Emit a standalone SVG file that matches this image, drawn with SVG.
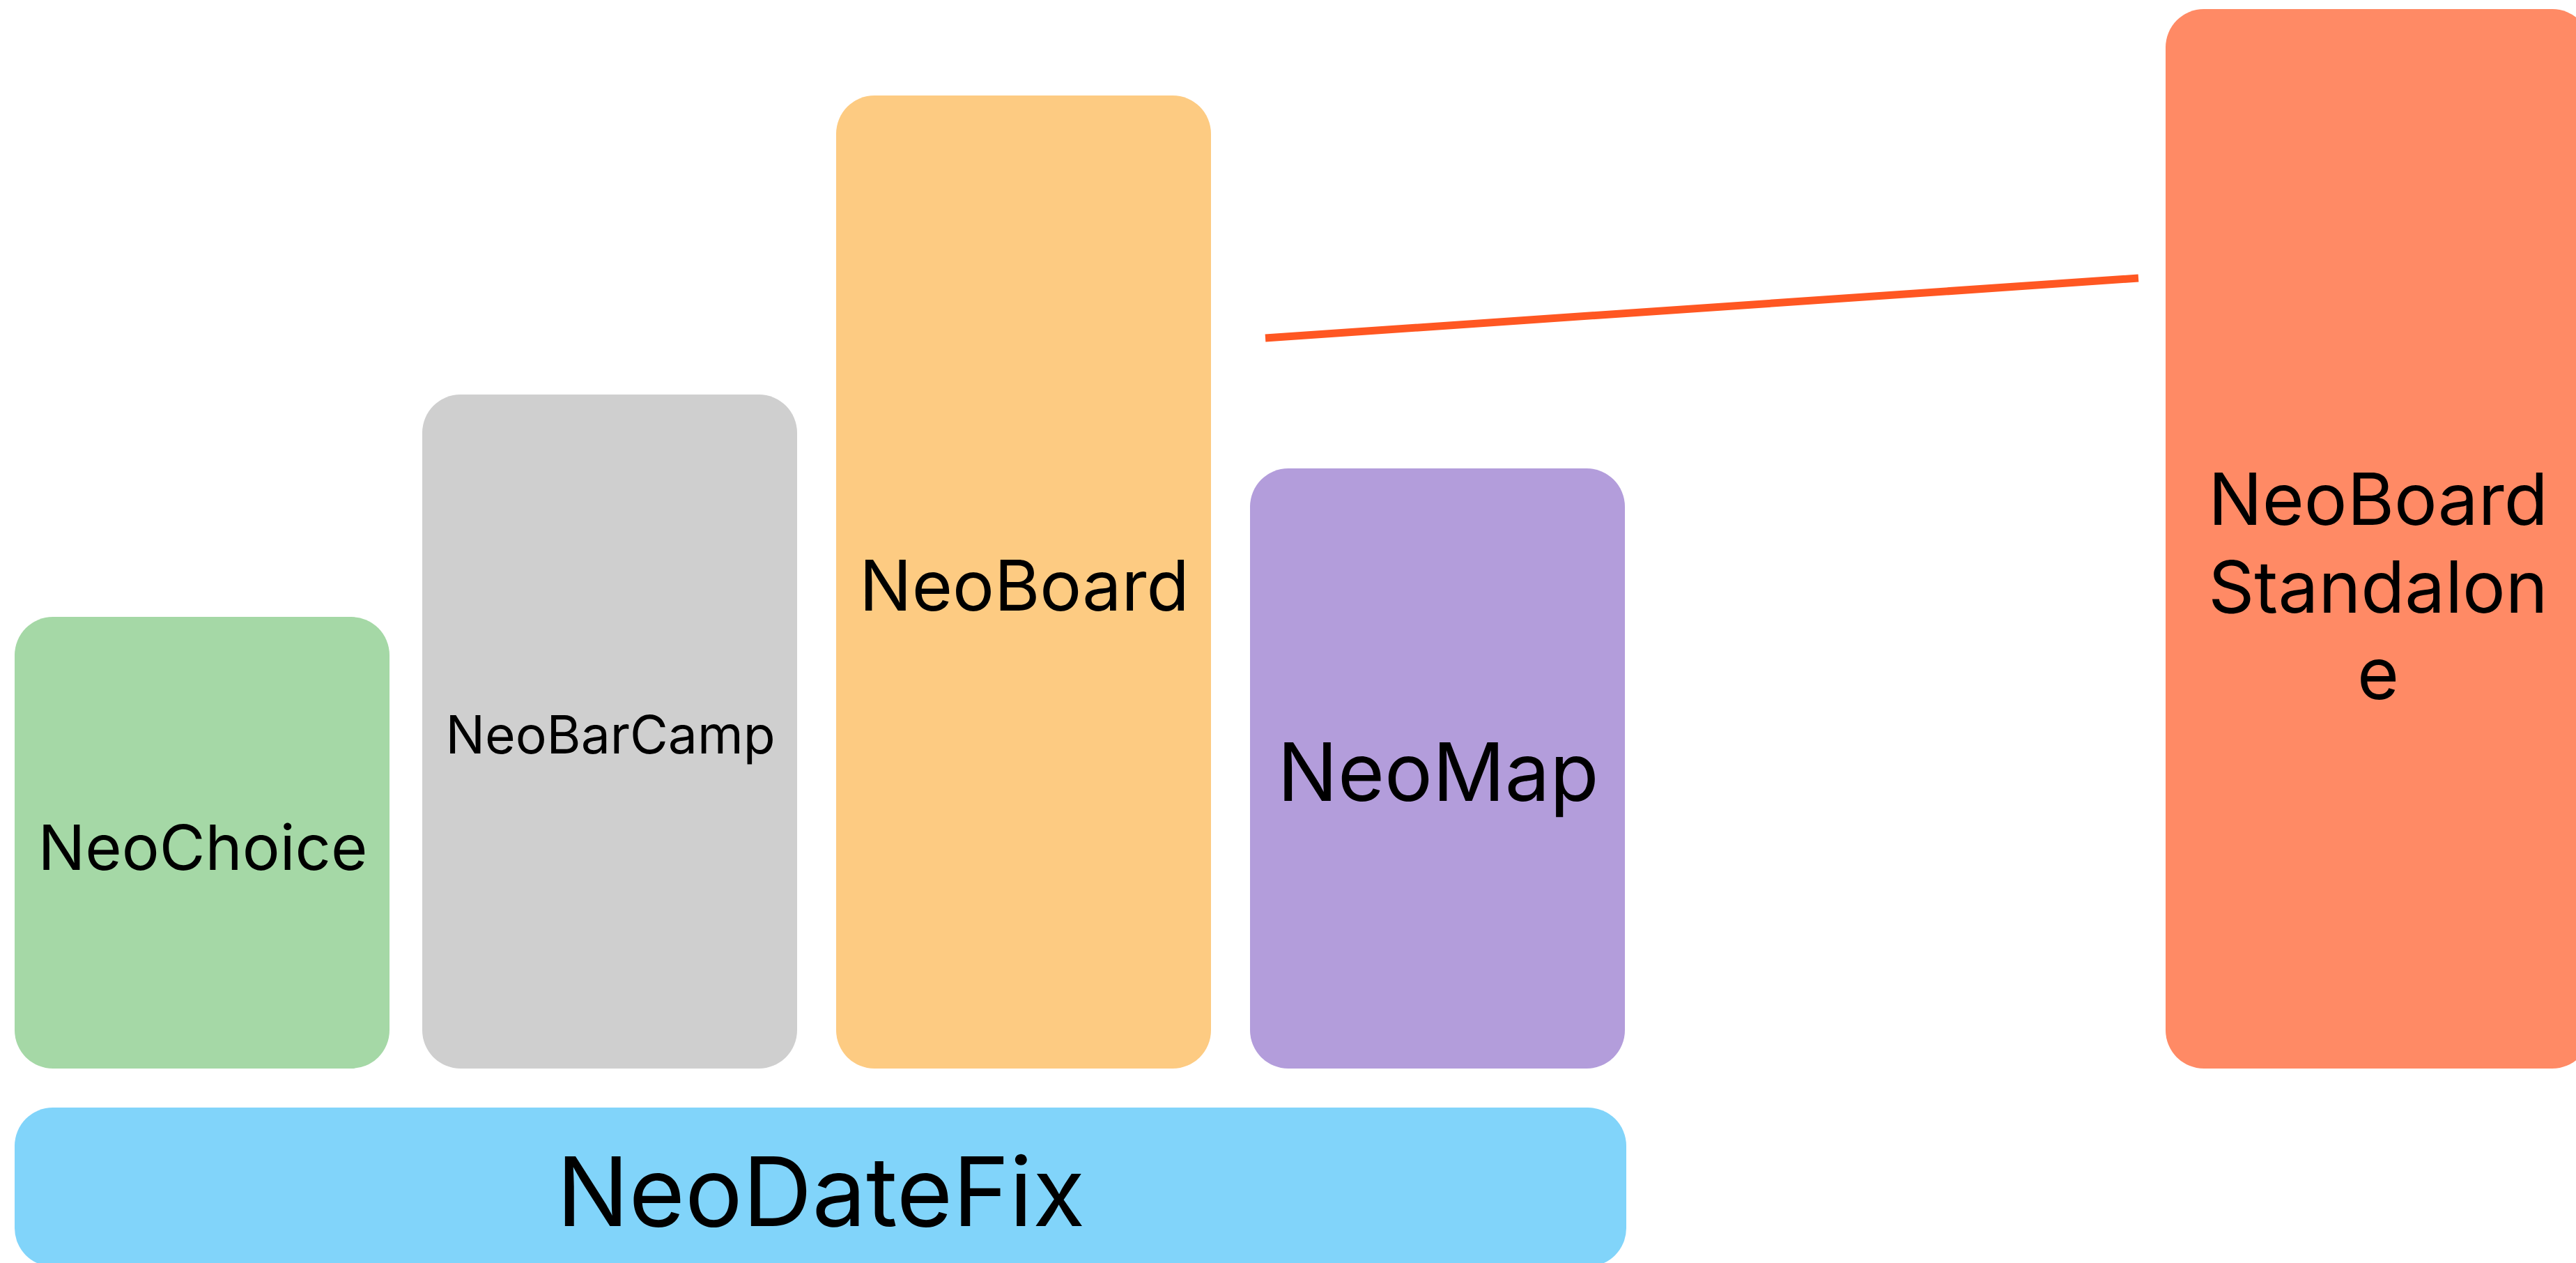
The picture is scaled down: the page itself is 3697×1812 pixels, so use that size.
<svg xmlns="http://www.w3.org/2000/svg" width="3697" height="1812" viewBox="0 0 3697 1812">
<style>
.box{rx:55px;ry:55px;}
text{font-family:Inter,"Noto Sans","Liberation Sans",sans-serif;fill:#000;text-anchor:middle;}
.conn{stroke:#FF5722;stroke-width:11;fill:none;}
</style>
<rect width="3697" height="1812" fill="#ffffff"/>
<g id="connectors">
<line class="conn" x1="1816" y1="485" x2="3069" y2="399"/>
</g>
<g id="NeoChoice">
<rect class="box" x="21" y="885" width="538" height="648" fill="#A5D8A6"/>
<text x="291" y="1248" font-size="90">NeoChoice</text>
</g>
<g id="NeoBarCamp">
<rect class="box" x="606" y="566" width="538" height="967" fill="#CFCFCF"/>
<text x="876" y="1081" font-size="75">NeoBarCamp</text>
</g>
<g id="NeoBoard">
<rect class="box" x="1200" y="137" width="538" height="1396" fill="#FDCB82"/>
<text x="1470" y="876" font-size="100">NeoBoard</text>
</g>
<g id="NeoMap">
<rect class="box" x="1794" y="672" width="538" height="861" fill="#B39DDB"/>
<text x="2064" y="1149" font-size="115">NeoMap</text>
</g>
<g id="NeoDateFix">
<rect class="box" x="21" y="1589" width="2313" height="228" fill="#81D4FA"/>
<text x="1178" y="1759" font-size="138">NeoDateFix</text>
</g>
<g id="NeoBoardStandalone">
<rect class="box" x="3108" y="13" width="610" height="1520" fill="#FF8A65"/>
<text x="3413" y="753" font-size="103">NeoBoard</text>
<text x="3413" y="879" font-size="103">Standalon</text>
<text x="3413" y="1003" font-size="103">e</text>
</g>
</svg>
